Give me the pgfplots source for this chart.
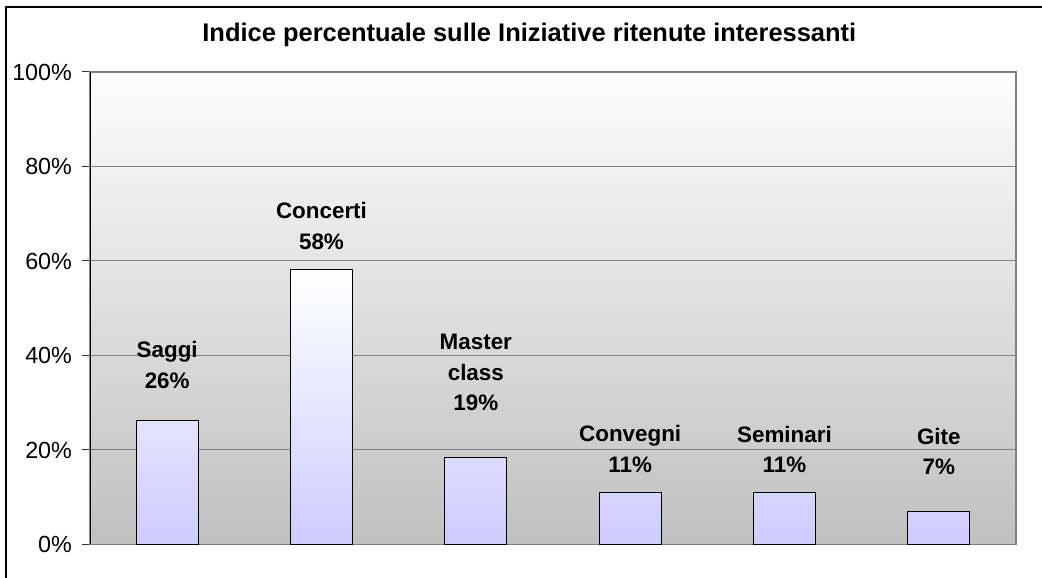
\documentclass[border=0pt]{standalone}
\usepackage{pgfplots}
\pgfplotsset{compat=1.18}
\usepackage{fontspec}
\setmainfont{Liberation Sans}
\definecolor{bgbot}{RGB}{192,192,192}
\definecolor{bgtop}{RGB}{253,253,253}
\definecolor{lav}{RGB}{204,204,255}
\definecolor{gridg}{RGB}{128,128,128}
\begin{document}
\begin{tikzpicture}
\useasboundingbox (0,0) rectangle (781.5pt,433.5pt);
\fill[white] (0,0) rectangle (781.5pt,433.5pt);
\draw[black, line width=1.5pt] (4.5pt,-5pt) -- (4.5pt,428.25pt) -- (790pt,428.25pt);
\node[font=\fontsize{19.1}{22}\selectfont\bfseries] at (397pt,407.25pt) {Indice percentuale sulle Iniziative ritenute interessanti};
\begin{axis}[
  at={(67.5pt,25.125pt)}, anchor=south west,
  scale only axis,
  width=694.5pt, height=354.375pt,
  xmin=-0.5, xmax=5.5,
  ymin=0, ymax=100,
  xtick=\empty,
  ytick={0,20,40,60,80,100},
  yticklabels={0\%,20\%,40\%,60\%,80\%,100\%},
  ytick pos=left,
  tick align=outside,
  major tick length=6pt,
  tick style={black!80, line width=0.75pt},
  yticklabel style={font=\fontsize{17.5}{20}\selectfont, xshift=-4pt},
  ymajorgrids,
  grid style={gridg, line width=0.75pt},
  axis line style={gridg, line width=1pt},
  axis background/.style={top color=bgtop, bottom color=bgbot},
  clip=false,
  ybar, bar width=46.3pt,
]
\addplot[draw=black, line width=0.75pt, top color=white, bottom color=lav] coordinates {
  (0,26.2) (1,58.3) (2,18.5) (3,11.1) (4,11.1) (5,6.9)
};
\draw[black, line width=0.75pt] (rel axis cs:0,0) -- (rel axis cs:0,1);
\begin{scope}[every node/.style={font=\fontsize{16.8}{23}\selectfont\bfseries, align=center}]
\node at (axis cs:0,38.0) {Saggi\\26\%};
\node at (axis cs:1,67.4) {Concerti\\58\%};
\node at (axis cs:2,36.4) {Master\\class\\19\%};
\node at (axis cs:3,20.2) {Convegni\\11\%};
\node at (axis cs:4,20.1) {Seminari\\11\%};
\node at (axis cs:5,19.7) {Gite\\7\%};
\end{scope}
\end{axis}
\end{tikzpicture}
\end{document}
